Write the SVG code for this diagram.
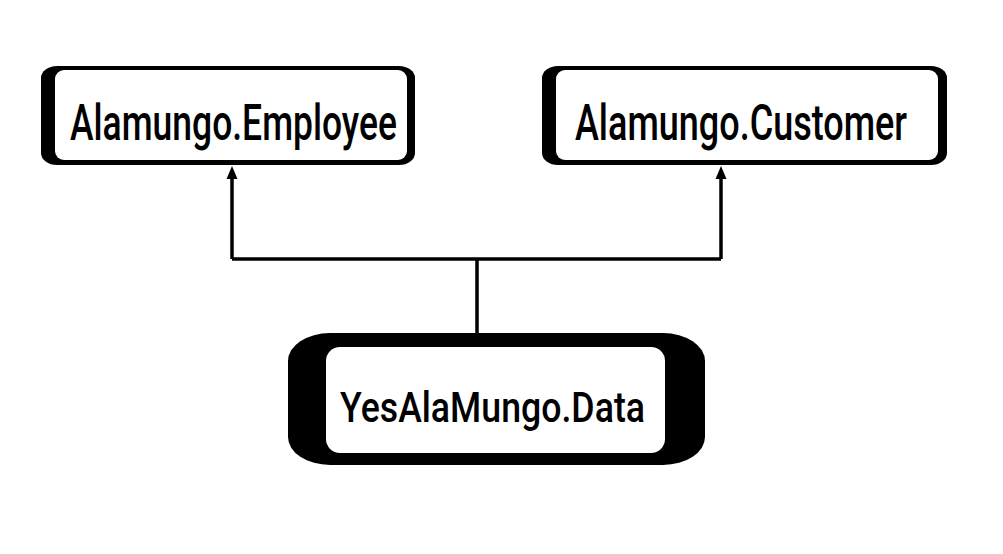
<svg xmlns="http://www.w3.org/2000/svg" width="1003" height="554" viewBox="0 0 1003 554">
<style>
.outer{fill:#000}
.inner{fill:#fff}
.lbl{font-family:Roboto,"Liberation Sans",Arial,sans-serif;font-weight:500;fill:#000}
.conn{stroke:#000;stroke-width:3.5;fill:none;stroke-linejoin:miter}
.head{fill:#000}
</style>
<rect width="1003" height="554" fill="#fff"/>
<g id="connectors">
<path class="conn" d="M477,334 V259"/>
<path class="conn" d="M232,259 H721"/>
<path class="conn" d="M232,259 V178"/>
<path class="conn" d="M721,259 V178"/>
<path class="head" d="M232,166 L237.5,179 L226.5,179 Z"/>
<path class="head" d="M721,166 L726.5,179 L715.5,179 Z"/>
</g>
<g id="employee">
<rect class="outer" x="41" y="66" width="374" height="99" rx="16" ry="12"/>
<rect class="inner" x="55" y="70" width="352" height="90" rx="9" ry="9"/>
<text class="lbl" transform="translate(70,140) scale(1,1.37)" x="0" y="0" font-size="36" textLength="327" lengthAdjust="spacingAndGlyphs">Alamungo.Employee</text>
</g>
<g id="customer">
<rect class="outer" x="542" y="66" width="405" height="99" rx="16" ry="12"/>
<rect class="inner" x="556" y="70" width="382" height="90" rx="9" ry="9"/>
<text class="lbl" transform="translate(575,140) scale(1,1.37)" x="0" y="0" font-size="36" textLength="332" lengthAdjust="spacingAndGlyphs">Alamungo.Customer</text>
</g>
<g id="data">
<rect class="outer" x="288" y="333" width="417" height="132" rx="42" ry="28"/>
<rect class="inner" x="326" y="347" width="339" height="106" rx="14" ry="14"/>
<text class="lbl" transform="translate(340,422) scale(1,1.36)" x="0" y="0" font-size="31" textLength="305" lengthAdjust="spacingAndGlyphs">YesAlaMungo.Data</text>
</g>
</svg>
